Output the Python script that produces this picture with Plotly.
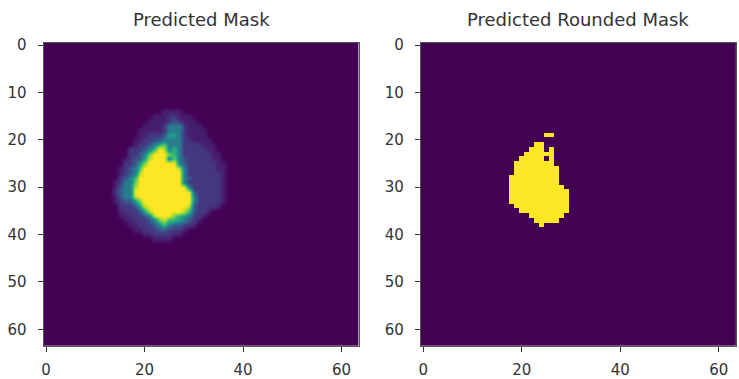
import plotly.graph_objects as go

# ---- data ----
grid_size = 64
tick_x = [0, 20, 40, 60]
tick_y = [0, 10, 20, 30, 40, 50, 60]
titles = ["Predicted Mask", "Predicted Rounded Mask"]

# intensity read for each shade digit used below
shade_levels = [0.0, 0.08, 0.16, 0.27, 0.42, 0.55, 0.66, 0.78, 0.9, 1.0]

# predicted mask: (row, first column, shade digits)
pred_rows = [
    (14, 24, "1111"),
    (15, 22, "11122111"),
    (16, 21, "1111232111"),
    (17, 20, "111124442111"),
    (18, 19, "11111244421111"),
    (19, 19, "11222355421111"),
    (20, 18, "1122334444221111"),
    (21, 18, "12234674442222111"),
    (22, 17, "222346984642222211"),
    (23, 17, "2234799976422222211"),
    (24, 16, "12335899947432222211"),
    (25, 16, "223579999994322222211"),
    (26, 15, "1234699999998422222211"),
    (27, 15, "1234899999999422222221"),
    (28, 15, "2346999999999432222221"),
    (29, 14, "12447999999999422222221"),
    (30, 14, "13448999999999942222221"),
    (31, 14, "23449999999999993222221"),
    (32, 14, "13448999999999994222221"),
    (33, 14, "12335799999999994222221"),
    (34, 15, "222358999999998322221"),
    (35, 15, "1222358999999863221"),
    (36, 15, "112223489997654221"),
    (37, 16, "1122234786654321"),
    (38, 17, "11222346433221"),
    (39, 18, "11222332221"),
    (40, 20, "11222211"),
    (41, 22, "1111"),
]

# rounded mask: (row, first column, last column) runs equal to 1
rounded_runs = [
    (19, 25, 26),
    (21, 23, 24),
    (22, 22, 24), (22, 26, 26),
    (23, 21, 26),
    (24, 20, 24), (24, 26, 26),
    (25, 19, 26),
    (26, 19, 27),
    (27, 19, 27),
    (28, 18, 27),
    (29, 18, 27),
    (30, 18, 28),
    (31, 18, 29),
    (32, 18, 29),
    (33, 18, 29),
    (34, 19, 29),
    (35, 20, 29),
    (36, 22, 28),
    (37, 23, 27),
    (38, 24, 24),
]

# ---- build grids ----
pred = [[0.0] * grid_size for _ in range(grid_size)]
for r, c0, digits in pred_rows:
    for i, ch in enumerate(digits):
        pred[r][c0 + i] = shade_levels[int(ch)]

rounded = [[0] * grid_size for _ in range(grid_size)]
for r, a, b in rounded_runs:
    for c in range(a, b + 1):
        rounded[r][c] = 1

W, H = 739, 379
font = "DejaVu Sans"
txt = "#333333"

fig = go.Figure()
fig.add_trace(go.Heatmap(z=pred, colorscale="Viridis", zmin=0, zmax=1,
                         zsmooth="best", showscale=False,
                         xaxis="x", yaxis="y", hoverinfo="skip"))
fig.add_trace(go.Heatmap(z=rounded, colorscale="Viridis", zmin=0, zmax=1,
                         showscale=False, xaxis="x2", yaxis="y2",
                         hoverinfo="skip"))

y_dom = [1 - 352 / H, 1 - 38 / H]
x_doms = [[41.7 / W, 357.7 / W], [420 / W, 736 / W]]

axis_common = dict(showgrid=False, zeroline=False, ticks="outside", ticklen=5,
                   tickwidth=1, tickcolor=txt, showline=True, mirror=True,
                   linecolor="#555555", linewidth=1,
                   tickfont=dict(family=font, size=15, color=txt))

fig.update_layout(
    width=W, height=H, margin=dict(l=0, r=0, t=0, b=0),
    paper_bgcolor="white", plot_bgcolor="white",
    xaxis=dict(domain=x_doms[0], range=[-0.5, 63.5], tickvals=tick_x,
               anchor="y", ticklabelstandoff=5, **axis_common),
    yaxis=dict(domain=y_dom, range=[63.5, -0.5], tickvals=tick_y,
               anchor="x", ticklabelstandoff=8, **axis_common),
    xaxis2=dict(domain=x_doms[1], range=[-0.5, 63.5], tickvals=tick_x,
                anchor="y2", ticklabelstandoff=5, **axis_common),
    yaxis2=dict(domain=y_dom, range=[63.5, -0.5], tickvals=tick_y,
                anchor="x2", ticklabelstandoff=8, **axis_common),
    annotations=[
        dict(text=titles[0], xref="paper", yref="paper",
             x=(x_doms[0][0] + x_doms[0][1]) / 2, y=1 - 14 / H,
             xanchor="center", yanchor="middle", showarrow=False,
             font=dict(family=font, size=18, color=txt)),
        dict(text=titles[1], xref="paper", yref="paper",
             x=(x_doms[1][0] + x_doms[1][1]) / 2, y=1 - 14 / H,
             xanchor="center", yanchor="middle", showarrow=False,
             font=dict(family=font, size=18, color=txt)),
    ],
)

fig.write_html("out.html", config={"displayModeBar": False},
               post_script="document.body.style.margin='0';"
                           "document.body.style.padding='0';")
